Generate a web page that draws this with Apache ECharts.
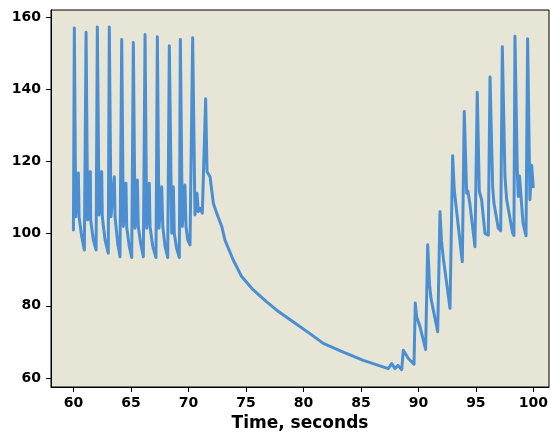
<!DOCTYPE html>
<html>
<head>
<meta charset="utf-8">
<script src="https://cdn.jsdelivr.net/npm/echarts@6/dist/echarts.min.js"></script>
<style>
html,body{margin:0;padding:0;background:#fff;}
#chart{width:551px;height:432px;}
</style>
</head>
<body>
<div id="chart"></div>
<script>
// Time stamps (seconds)
const timeSec = [
  60.00, 60.08, 60.20, 60.43, 60.49, 60.72, 60.95,
  61.10, 61.24, 61.47, 61.50, 61.73, 61.97,
  62.08, 62.23, 62.46, 62.51, 62.75, 63.03,
  63.12, 63.27, 63.56, 63.62, 63.85, 64.05,
  64.20, 64.34, 64.57, 64.63, 64.86, 65.07,
  65.21, 65.36, 65.56, 65.64, 65.85, 66.08,
  66.23, 66.37, 66.60, 66.66, 66.90, 67.18,
  67.30, 67.44, 67.68, 67.77, 67.97, 68.20,
  68.34, 68.55, 68.69, 68.77, 68.97, 69.21,
  69.30, 69.47, 69.70, 69.79, 69.94, 70.14,
  70.37, 70.57, 70.75, 70.86, 71.01, 71.21, 71.38,
  71.50, 71.62, 71.73, 71.88, 72.17, 72.46, 72.90, 73.18,
  73.90, 74.63, 75.64, 76.81, 77.68, 79.10, 80.57, 81.73,
  83.47, 85.21, 87.38, 87.68, 87.97, 88.23, 88.55,
  88.69, 89.13, 89.62,
  89.73, 89.85, 90.14, 90.63,
  90.81, 90.97, 91.10, 91.68,
  91.88, 92.01, 92.18, 92.75,
  92.98, 93.12, 93.23, 93.44, 93.82,
  93.99, 94.20, 94.31, 94.49, 94.92,
  95.12, 95.30, 95.50, 95.79, 96.08,
  96.23, 96.46, 96.57, 96.95, 97.16,
  97.30, 97.53, 97.68, 98.20, 98.31,
  98.40, 98.60, 98.69, 98.79, 99.10, 99.36,
  99.50, 99.70, 99.85, 99.99
];

// Pressure values
const pressure = [
  101.0, 157.0, 104.7, 116.8, 104.7, 99.2, 95.5,
  155.8, 103.8, 117.2, 103.8, 98.3, 95.5,
  157.3, 105.2, 117.2, 104.7, 98.3, 94.6,
  157.3, 104.7, 115.8, 104.7, 97.3, 93.6,
  153.8, 102.0, 114.0, 102.0, 96.4, 93.4,
  153.0, 101.5, 114.9, 102.0, 97.3, 93.6,
  155.2, 101.5, 114.0, 102.0, 96.5, 93.4,
  154.6, 101.5, 113.0, 102.0, 96.5, 93.4,
  152.1, 100.1, 113.0, 100.1, 96.0, 93.4,
  153.8, 102.0, 113.5, 102.0, 98.3, 96.9,
  154.3, 105.2, 111.2, 106.1, 107.0, 105.7, 105.2,
  137.4, 117.2, 116.8, 115.8, 108.4, 105.7, 102.0, 98.2,
  92.7, 88.1, 84.4, 81.1, 78.8, 75.6, 72.3, 69.6,
  67.2, 64.9, 62.6, 64.0, 62.6, 63.5, 62.3,
  67.7, 65.4, 63.8,
  80.8, 77.0, 74.2, 67.9,
  96.9, 86.0, 82.0, 72.8,
  106.1, 98.0, 93.0, 79.3,
  121.6, 112.1, 112.5, 103.0, 92.2,
  133.9, 111.2, 111.8, 108.0, 96.4,
  139.2, 111.7, 109.4, 100.1, 99.6,
  143.4, 113.0, 108.5, 101.5, 100.8,
  151.8, 115.8, 109.4, 100.1, 99.5,
  154.7, 117.7, 110.3, 116.0, 103.0, 99.4,
  154.0, 109.4, 119.0, 113.0
];

const xTicks = [60, 65, 70, 75, 80, 85, 90, 95, 100];
const yTicks = [60, 80, 100, 120, 140, 160];
const xLabel = 'Time, seconds';

const chart = echarts.init(document.getElementById('chart'), null, {renderer: 'canvas'});
const seriesData = timeSec.map((t, i) => [t, pressure[i]]);
const labelFont = {fontFamily: 'DejaVu Sans', fontWeight: 'bold', fontSize: 14, color: '#000'};

chart.setOption({
  animation: false,
  backgroundColor: '#ffffff',
  grid: {
    left: 51, right: 2, top: 10, bottom: 45,
    outerBoundsMode: 'none',
    containLabel: false,
    show: true,
    backgroundColor: '#e7e5d5',
    borderColor: '#000',
    borderWidth: 1
  },
  xAxis: {
    type: 'value',
    min: 58.05, max: 101.36,
    name: xLabel,
    nameLocation: 'middle',
    nameGap: 28,
    nameTextStyle: {fontFamily: 'DejaVu Sans', fontWeight: 'bold', fontSize: 17, color: '#000'},
    splitLine: {show: false},
    axisLine: {show: true, lineStyle: {color: '#000', width: 1}},
    axisTick: {show: true, inside: false, length: 5, customValues: xTicks, lineStyle: {color: '#000', width: 1}},
    axisLabel: Object.assign({margin: 9, customValues: xTicks, formatter: v => String(v)}, labelFont)
  },
  yAxis: {
    type: 'value',
    min: 57.5, max: 162,
    splitLine: {show: false},
    axisLine: {show: true, lineStyle: {color: '#000', width: 1}},
    axisTick: {show: true, inside: false, length: 5, customValues: yTicks, lineStyle: {color: '#000', width: 1}},
    axisLabel: Object.assign({margin: 10, customValues: yTicks, formatter: v => String(v)}, labelFont)
  },
  series: [{
    type: 'line',
    data: seriesData,
    showSymbol: false,
    symbol: 'none',
    smooth: false,
    lineStyle: {color: '#4b8fd2', width: 3, join: 'round', cap: 'round'}
  }]
});
</script>
</body>
</html>
